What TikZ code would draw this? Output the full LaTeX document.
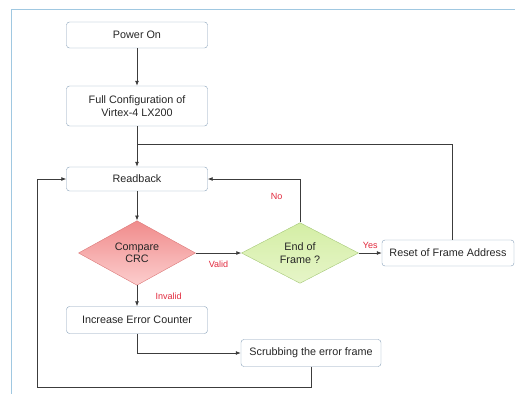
\documentclass[tikz,border=0pt]{standalone}
\usepackage{fontspec}
\setmainfont{Liberation Sans}
\usetikzlibrary{shapes.geometric,arrows.meta}
\definecolor{boxline}{RGB}{135,160,185}
\definecolor{frameblue}{RGB}{160,200,225}
\definecolor{flowgray}{RGB}{60,60,60}
\definecolor{labelred}{RGB}{225,40,60}
\tikzset{
  stepbox/.style={rectangle, rounded corners=3pt, draw=boxline, fill=white,
    minimum width=141pt, minimum height=26pt, align=center,
    text=black!85, font=\fontsize{10.8}{12.5}\selectfont},
  decision/.style={diamond, inner sep=0pt, minimum width=117pt, minimum height=58pt,
    align=center, text=black!85, font=\fontsize{10.8}{12.5}\selectfont},
  flow/.style={draw=flowgray, line width=0.8pt, -{Latex[length=5pt,width=4pt]}},
  plain/.style={draw=flowgray, line width=0.8pt},
  tag/.style={text=labelred, font=\fontsize{9}{10}\selectfont}
}
\begin{document}
\begin{tikzpicture}[x=1pt,y=-1pt]
  \useasboundingbox (0,0) rectangle (515,394);
  % outer frame
  \draw[frameblue, line width=1pt] (11,394) -- (11,9) -- (515,9);

  % boxes
  \node[stepbox] (power) at (137,35) {Power On};
  \node[stepbox, minimum height=40pt] (config) at (137,106) {Full Configuration of\\Virtex-4 LX200};
  \node[stepbox, minimum height=24pt] (readback) at (137,179) {Readback};
  \node[decision, draw={rgb,255:red,220;green,120;blue,120}, top color={rgb,255:red,240;green,140;blue,140},
        bottom color={rgb,255:red,252;green,205;blue,205}] (crc) at (137,253) {Compare\\CRC};
  \node[decision, draw={rgb,255:red,165;green,200;blue,120}, top color={rgb,255:red,212;green,238;blue,165},
        bottom color={rgb,255:red,230;green,245;blue,200}] (eof) at (300,253) {End of\\Frame ?};
  \node[stepbox, minimum width=132pt] (reset) at (448,253) {Reset of Frame Address};
  \node[stepbox, minimum height=27pt] (counter) at (137,320) {Increase Error Counter};
  \node[stepbox, minimum width=140pt, minimum height=27pt] (scrub) at (311,353) {Scrubbing the error frame};

  % loop corners
  \coordinate (top) at (452,144);
  \coordinate (loop) at (37,387);

  % connectors
  \draw[flow] (power) -- (config);
  \draw[flow] (config) -- (readback);
  \draw[plain] (reset.north -| top) |- (config.south |- top);
  \draw[flow] (readback) -- (crc);
  \draw[flow] (crc.east) -- node[tag, below=4pt] {Valid} (eof.west);
  \draw[flow] (eof.east) -- node[tag, above=1pt] {Yes} (reset.west);
  \draw[flow] (eof.north) |- node[tag, pos=0.3, left=14pt] {No} (readback.east);
  \draw[flow] (crc.south) -- node[tag, right=15pt] {Invalid} (counter.north);
  \draw[flow] (counter.south) |- (scrub.west);
  \draw[flow] (scrub.south) |- (loop) |- (readback.west);
\end{tikzpicture}
\end{document}
